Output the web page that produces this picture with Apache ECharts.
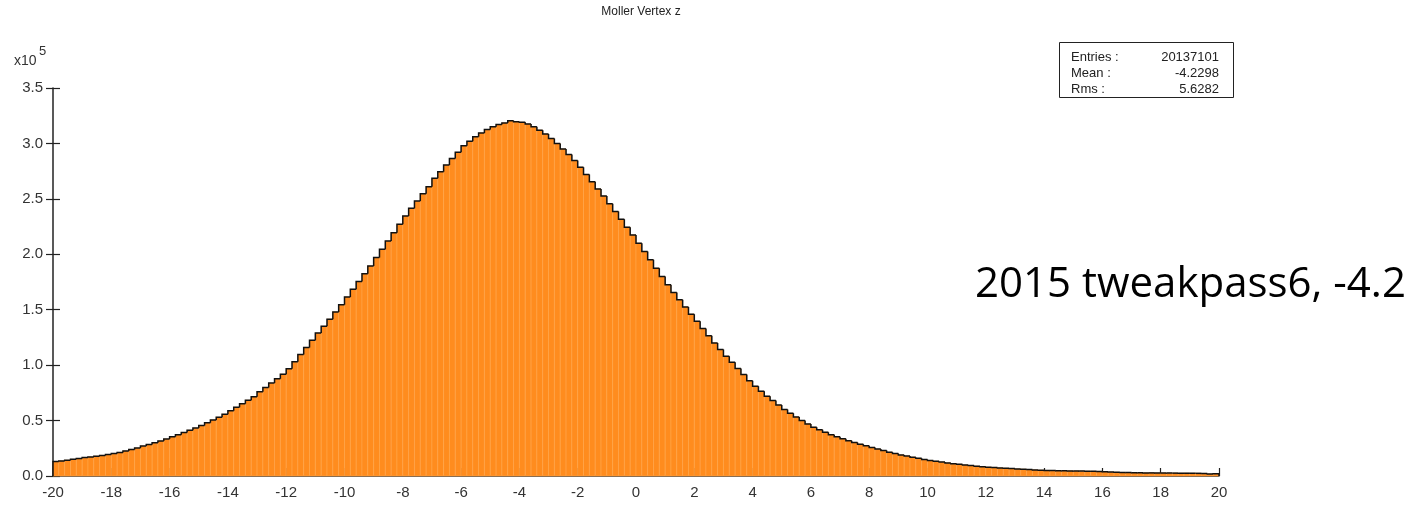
<!DOCTYPE html>
<html>
<head>
<meta charset="utf-8">
<script src="https://cdn.jsdelivr.net/npm/echarts@6/dist/echarts.min.js"></script>
<style>
  html, body { margin: 0; padding: 0; background: #fff; }
  #chart { width: 1418px; height: 510px; }
</style>
</head>
<body>
<div id="chart"></div>
<script>
// histogram: 200 bins of width 0.2 from -20 to 20, counts in units of 1e5
const xMin = -20
const binWidth = 0.2
const counts = [
  0.130, 0.136, 0.142, 0.150, 0.158, 0.166, 0.172, 0.179, 0.186, 0.194,
  0.203, 0.213, 0.226, 0.240, 0.252, 0.270, 0.284, 0.300, 0.316, 0.333,
  0.355, 0.373, 0.392, 0.413, 0.432, 0.456, 0.480, 0.505, 0.530, 0.556,
  0.588, 0.620, 0.651, 0.684, 0.716, 0.760, 0.798, 0.838, 0.878, 0.918,
  0.968, 1.030, 1.095, 1.160, 1.225, 1.290, 1.350, 1.415, 1.480, 1.545,
  1.615, 1.685, 1.755, 1.825, 1.895, 1.970, 2.045, 2.120, 2.195, 2.270,
  2.345, 2.415, 2.480, 2.545, 2.610, 2.685, 2.745, 2.805, 2.865, 2.920,
  2.980, 3.020, 3.060, 3.095, 3.125, 3.150, 3.170, 3.185, 3.205, 3.195,
  3.190, 3.175, 3.150, 3.120, 3.085, 3.045, 3.000, 2.950, 2.900, 2.845,
  2.785, 2.720, 2.655, 2.590, 2.525, 2.455, 2.385, 2.315, 2.245, 2.175,
  2.100, 2.025, 1.950, 1.875, 1.800, 1.725, 1.655, 1.590, 1.525, 1.460,
  1.395, 1.330, 1.265, 1.200, 1.140, 1.080, 1.025, 0.970, 0.915, 0.860,
  0.810, 0.765, 0.720, 0.680, 0.640, 0.600, 0.566, 0.533, 0.500, 0.470,
  0.440, 0.418, 0.395, 0.373, 0.353, 0.335, 0.319, 0.303, 0.287, 0.272,
  0.258, 0.243, 0.229, 0.215, 0.202, 0.190, 0.180, 0.169, 0.159, 0.149,
  0.140, 0.133, 0.126, 0.118, 0.111, 0.105, 0.099, 0.094, 0.089, 0.084,
  0.080, 0.077, 0.073, 0.070, 0.067, 0.064, 0.061, 0.058, 0.055, 0.052,
  0.050, 0.049, 0.048, 0.047, 0.046, 0.045, 0.044, 0.043, 0.042, 0.041,
  0.038, 0.035, 0.033, 0.032, 0.031, 0.030, 0.029, 0.028, 0.028, 0.027,
  0.027, 0.026, 0.026, 0.025, 0.025, 0.024, 0.024, 0.022, 0.018, 0.020
]
const statsLabels = ['Entries :', 'Mean :', 'Rms :']
const statsValues = ['20137101', '-4.2298', '5.6282']
const titleText = 'Moller Vertex z'
const noteText = '2015 tweakpass6, -4.2'

const FONT = '"Liberation Sans", Arial, sans-serif'

// [lo, hi, value, previous value, is last]
const bins = counts.map((v, i) => [
  xMin + i * binWidth,
  xMin + (i + 1) * binWidth,
  v,
  i === 0 ? 0 : counts[i - 1],
  i === counts.length - 1 ? 1 : 0
])

const myChart = echarts.init(document.getElementById('chart'))

const gridBox = { left: 53, right: 199, top: 88, bottom: 34 }

// stats box graphics
const statsGraphics = [{
  type: 'rect',
  shape: { x: 1059.5, y: 42.5, width: 174, height: 55 },
  style: { fill: '#fff', stroke: '#222', lineWidth: 1 }
}]
statsLabels.forEach((t, i) => {
  statsGraphics.push({
    type: 'text', x: 1071, y: 57 + i * 16,
    style: { text: t, font: '13px ' + FONT, fill: '#222', textVerticalAlign: 'middle' }
  })
  statsGraphics.push({
    type: 'text', x: 1219, y: 57 + i * 16,
    style: { text: statsValues[i], font: '13px ' + FONT, fill: '#222', textAlign: 'right', textVerticalAlign: 'middle' }
  })
})

myChart.setOption({
  animation: false,
  title: {
    text: titleText,
    left: 636,
    top: 1,
    textAlign: 'center',
    textStyle: { fontFamily: FONT, fontSize: 12, fontWeight: 'normal', color: '#222' }
  },
  grid: [
    Object.assign({}, gridBox),
    Object.assign({}, gridBox)
  ],
  xAxis: [
    {
      type: 'value', gridIndex: 0, min: -20, max: 20, interval: 2,
      axisLine: { onZero: false, lineStyle: { color: '#222', width: 1.5 } },
      axisTick: { inside: true, length: 8, lineStyle: { color: '#222', width: 1.2 } },
      axisLabel: { color: '#333', fontFamily: FONT, fontSize: 15, margin: 9 },
      splitLine: { show: false }
    },
    {
      type: 'value', gridIndex: 1, min: -20, max: 20,
      axisLine: { show: false, onZero: false },
      axisTick: { show: false },
      axisLabel: { show: false },
      splitLine: { show: false }
    }
  ],
  yAxis: [
    {
      type: 'value', gridIndex: 0, min: 0, max: 3.5, interval: 0.5,
      axisLine: { show: true, onZero: false, lineStyle: { color: '#222', width: 1.5 } },
      axisTick: { show: true, length: 7, lineStyle: { color: '#222', width: 1.2 } },
      axisLabel: { color: '#333', fontFamily: FONT, fontSize: 15, margin: 10, formatter: v => v.toFixed(1) },
      splitLine: { show: false }
    },
    {
      type: 'value', gridIndex: 1, min: 0, max: 3.5, interval: 0.5,
      axisLine: { show: false, onZero: false },
      axisTick: { show: true, inside: true, length: 7, lineStyle: { color: '#222', width: 1.2 } },
      axisLabel: { show: false },
      splitLine: { show: false }
    }
  ],
  series: [
    {
      type: 'custom',
      xAxisIndex: 0,
      yAxisIndex: 0,
      data: bins,
      encode: { x: [0, 1], y: 2 },
      renderItem(params, api) {
        const lo = api.value(0)
        const hi = api.value(1)
        const v = api.value(2)
        const prev = api.value(3)
        const last = api.value(4)
        const pTop = api.coord([lo, v])
        const pBase = api.coord([hi, 0])
        const pPrev = api.coord([lo, prev])
        const pts = [pPrev, pTop, [pBase[0], pTop[1]]]
        if (last) pts.push(pBase)
        return {
          type: 'group',
          children: [
            {
              type: 'rect',
              shape: { x: pTop[0], y: pTop[1], width: pBase[0] - pTop[0], height: pBase[1] - pTop[1] },
              style: { fill: '#ff8c1e', stroke: '#ffa448', lineWidth: 0.6 }
            },
            {
              type: 'polyline',
              z2: 10,
              shape: { points: pts },
              style: { stroke: '#111', lineWidth: 1.5, fill: null }
            }
          ]
        }
      }
    }
  ],
  graphic: [
    {
      type: 'text', left: 14, top: 54,
      style: { text: 'x10', font: '14px ' + FONT, fill: '#333' }
    },
    {
      type: 'text', left: 39, top: 45,
      style: { text: '5', font: '13px ' + FONT, fill: '#333' }
    },
    {
      type: 'text', left: 975, top: 264,
      style: { text: noteText, font: '42px "Open Sans", Lato, sans-serif', fill: '#000' }
    }
  ].concat(statsGraphics)
})
</script>
</body>
</html>
